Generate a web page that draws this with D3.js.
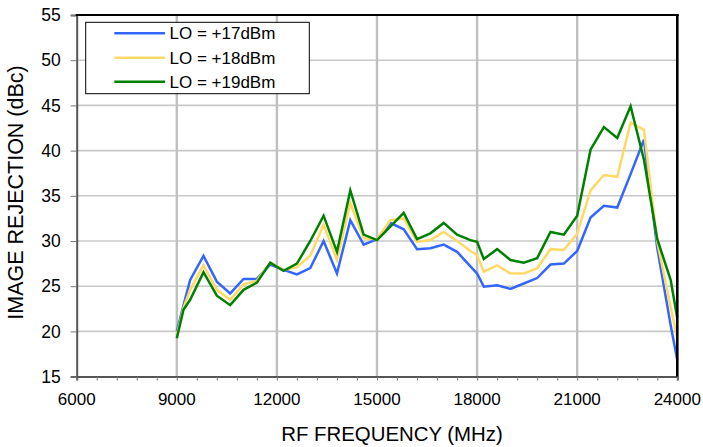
<!DOCTYPE html>
<html>
<head>
<meta charset="utf-8">
<script src="https://cdn.jsdelivr.net/npm/d3@7"></script>
<style>
  html, body { margin: 0; padding: 0; background: #fff; }
  svg { display: block; }
  text { font-family: "Liberation Sans", Arial, sans-serif; fill: #000; }
</style>
</head>
<body>
<div id="chart"></div>
<script>
// ---- data ----
const freqs = [9000, 9200, 9400, 9800, 10200, 10600, 11000, 11400, 11800, 12200,
  12600, 13000, 13400, 13800, 14200, 14600, 15000, 15400, 15800, 16200,
  16600, 17000, 17400, 17800, 18000, 18200, 18600, 19000, 19400, 19800,
  20200, 20600, 21000, 21400, 21800, 22200, 22600, 23000, 23400, 23800, 24000];

const lo17 = [20.0, 22.9, 25.7, 28.35, 25.5, 24.2, 25.8, 25.8, 27.4, 26.8,
  26.3, 27.0, 30.0, 26.4, 32.3, 29.6, 30.2, 32.0, 31.3, 29.1,
  29.2, 29.6, 28.8, 27.2, 26.4, 24.95, 25.1, 24.7, 25.3, 25.9,
  27.4, 27.5, 28.9, 32.6, 33.9, 33.7, 37.4, 41.2, 29.2, 20.7, 16.8];

const lo18 = [19.6, 22.6, 24.6, 27.35, 24.6, 23.5, 25.2, 25.6, 27.6, 26.8,
  27.1, 28.4, 31.8, 27.9, 34.2, 30.3, 30.2, 32.3, 32.5, 29.9,
  30.1, 31.0, 30.0, 28.9, 28.45, 26.6, 27.3, 26.4, 26.4, 27.0,
  29.1, 29.0, 30.8, 35.6, 37.3, 37.1, 43.1, 42.3, 29.9, 22.7, 19.2];

const lo19 = [19.25, 22.4, 23.5, 26.55, 23.95, 22.9, 24.6, 25.4, 27.6, 26.7,
  27.5, 30.0, 32.8, 28.8, 35.6, 30.7, 30.1, 31.6, 33.1, 30.2,
  30.85, 32.0, 30.7, 30.1, 29.9, 28.0, 29.1, 27.9, 27.6, 28.1,
  31.0, 30.7, 32.8, 40.1, 42.6, 41.4, 44.9, 39.0, 30.2, 25.7, 21.45];

const seriesNames = ["LO = +17dBm", "LO = +18dBm", "LO = +19dBm"];
const seriesColors = ["#3366ff", "#ffd966", "#008000"];
const seriesValues = [lo17, lo18, lo19];

const xTicks = [6000, 9000, 12000, 15000, 18000, 21000, 24000];
const yTicks = [15, 20, 25, 30, 35, 40, 45, 50, 55];
const xTitle = "RF FREQUENCY (MHz)";
const yTitle = "IMAGE REJECTION (dBc)";

// ---- layout ----
const W = 703, H = 447;
const pLeft = 76.7, pRight = 677.3, pTop = 15, pBottom = 376.6;

const svg = d3.select("#chart").append("svg")
  .attr("width", W).attr("height", H);

const x = d3.scaleLinear().domain([6000, 24000]).range([pLeft, pRight]);
const y = d3.scaleLinear().domain([15, 55]).range([pBottom, pTop]);

// horizontal gridlines
svg.append("g").selectAll("line")
  .data(yTicks.filter(v => v > 15 && v < 55))
  .join("line")
  .attr("x1", pLeft).attr("x2", pRight)
  .attr("y1", d => y(d)).attr("y2", d => y(d))
  .attr("stroke", "#c8c8c8").attr("stroke-width", 1.6);

// vertical gridlines
svg.append("g").selectAll("line")
  .data(xTicks.filter(v => v > 6000 && v < 24000))
  .join("line")
  .attr("x1", d => x(d)).attr("x2", d => x(d))
  .attr("y1", pTop).attr("y2", pBottom)
  .attr("stroke", "#c0c0c0").attr("stroke-width", 2.4);

// series lines
const line = d3.line()
  .x((d, i) => x(freqs[i]))
  .y(d => y(d));

seriesValues.forEach((vals, k) => {
  svg.append("path")
    .datum(vals)
    .attr("fill", "none")
    .attr("stroke", seriesColors[k])
    .attr("stroke-width", 2.5)
    .attr("stroke-linejoin", "miter")
    .attr("d", line);
});

// x axis (bottom)
const xAxis = d3.axisBottom(x)
  .tickValues(d3.range(6000, 24001, 600))
  .tickSize(4)
  .tickFormat("");
const gx = svg.append("g").attr("transform", `translate(0,${pBottom})`).call(xAxis);
gx.select(".domain").attr("stroke", "#555").attr("stroke-width", 2);
gx.selectAll(".tick line").attr("stroke", "#777").attr("stroke-width", 1);

svg.append("g").selectAll("text")
  .data(xTicks)
  .join("text")
  .attr("x", d => x(d))
  .attr("y", 405)
  .attr("text-anchor", "middle")
  .attr("font-size", 17)
  .text(d => d);

// y axis (left)
const yAxis = d3.axisLeft(y)
  .tickValues(yTicks)
  .tickSize(6)
  .tickPadding(10)
  .tickFormat(d => d);
const gy = svg.append("g").attr("transform", `translate(${pLeft},0)`).call(yAxis);
gy.select(".domain").attr("stroke", "#555").attr("stroke-width", 2);
gy.selectAll(".tick line").attr("stroke", "#777").attr("stroke-width", 1);
gy.selectAll(".tick text")
  .attr("font-size", 17.5)
  .attr("font-family", "'Liberation Sans', Arial, sans-serif")
  .attr("fill", "#000");

// top & right borders
svg.append("line").attr("x1", pLeft - 1).attr("x2", pRight + 1.5)
  .attr("y1", pTop).attr("y2", pTop).attr("stroke", "#000").attr("stroke-width", 2);
svg.append("line").attr("x1", pRight).attr("x2", pRight)
  .attr("y1", pTop).attr("y2", pBottom).attr("stroke", "#000").attr("stroke-width", 2.6);

// axis titles
svg.append("text")
  .attr("x", 392).attr("y", 441)
  .attr("text-anchor", "middle")
  .attr("font-size", 20.4)
  .text(xTitle);

svg.append("text")
  .attr("transform", `translate(23,192.5) rotate(-90)`)
  .attr("text-anchor", "middle")
  .attr("font-size", 21.5)
  .text(yTitle);

// legend
const lg = svg.append("g");
lg.append("rect")
  .attr("x", 85.7).attr("y", 22.3)
  .attr("width", 223.6).attr("height", 71.4)
  .attr("fill", "#fff").attr("stroke", "#000").attr("stroke-width", 1);

const legendRows = [33.3, 57.7, 81.7];
seriesNames.forEach((name, k) => {
  lg.append("line")
    .attr("x1", 114.3).attr("x2", 165)
    .attr("y1", legendRows[k]).attr("y2", legendRows[k])
    .attr("stroke", seriesColors[k]).attr("stroke-width", 2.5);
  lg.append("text")
    .attr("x", 169.5).attr("y", legendRows[k])
    .attr("dy", "0.36em")
    .attr("font-size", 17)
    .text(name);
});
</script>
</body>
</html>
